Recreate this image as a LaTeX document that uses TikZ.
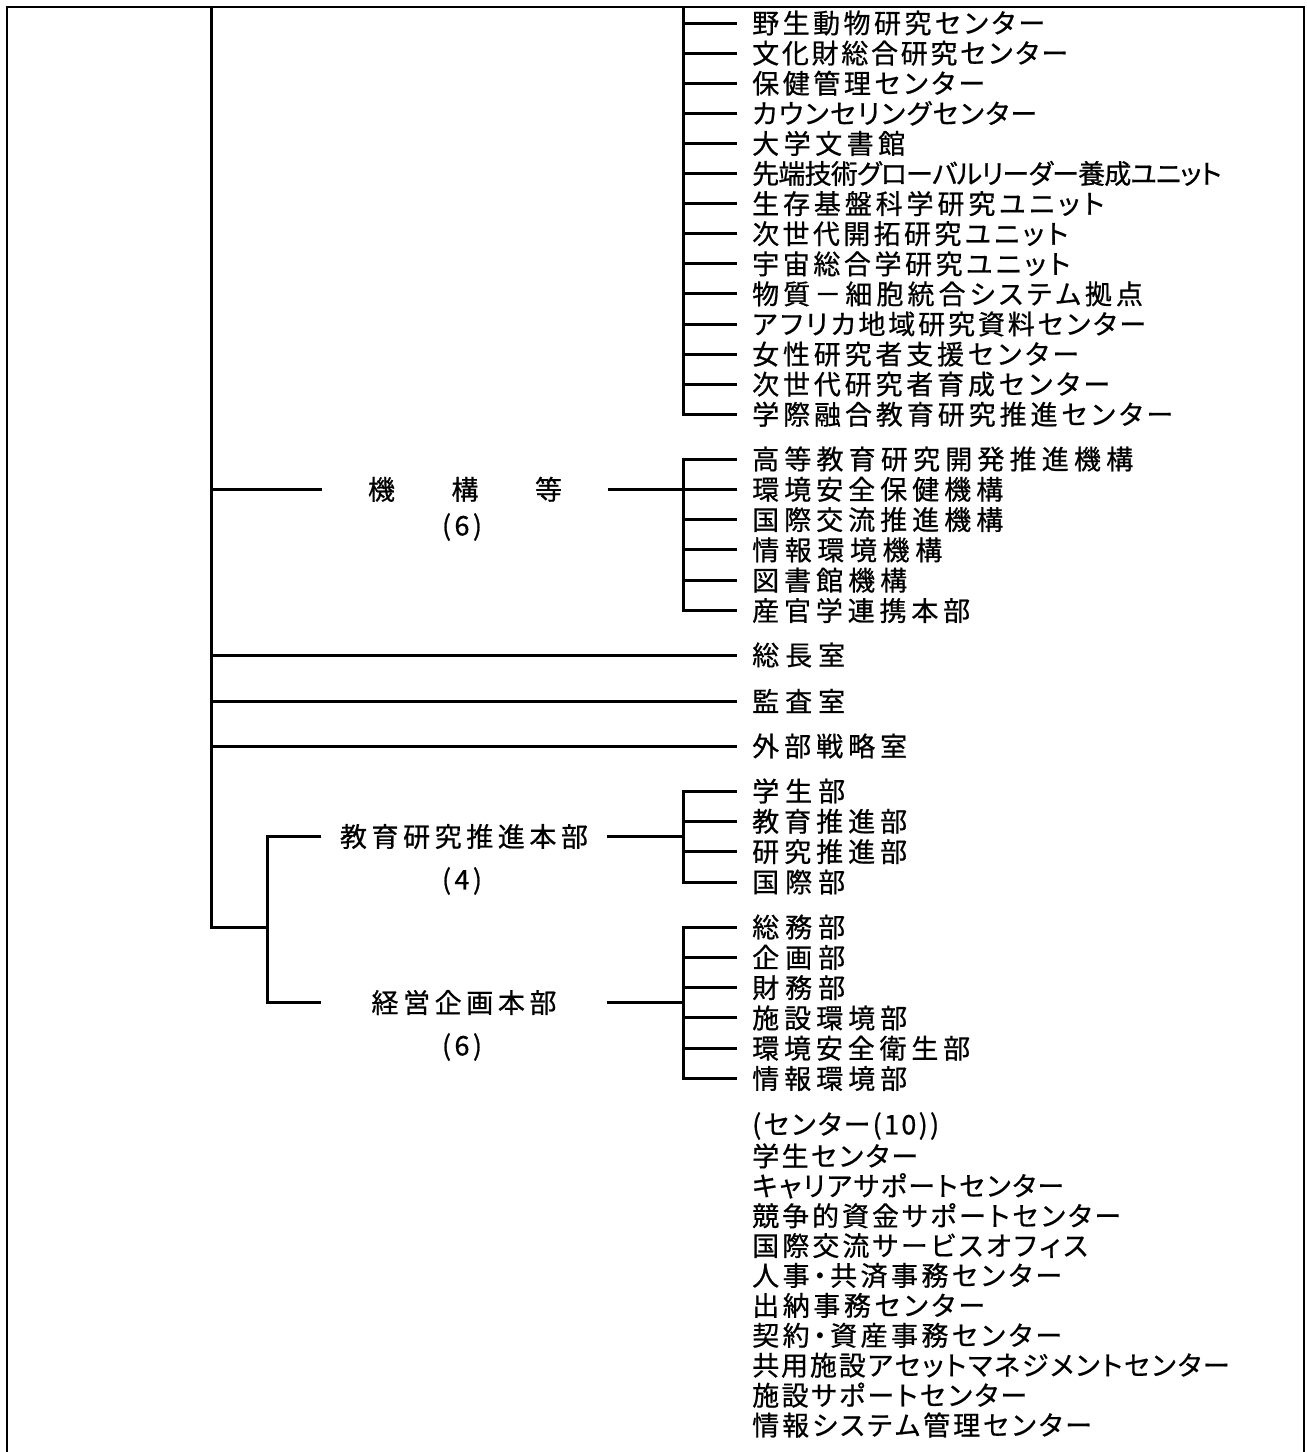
\documentclass[tikz,border=0pt]{standalone}
\usepackage{fontspec}
\newfontfamily\jp[RawFeature=+palt,FakeBold=0.7]{Noto Sans CJK JP}
\newcount\lcnt
\newdimen\lgap
\def\lend{LEND}
\def\lcount#1{\ifx#1\lend\else\advance\lcnt by 1\relax\expandafter\lcount\fi}
\def\lput#1{\ifx#1\lend\else#1\hskip\lgap\relax\expandafter\lput\fi}
% \fit{ink width in pt}{text}: spreads the characters to the given width
\newcommand\fit[2]{\setbox0\hbox{#2}\lcnt=0 \lcount#2\lend
  \lgap=#1pt \advance\lgap by -\wd0 \advance\lcnt by -1 \divide\lgap by \lcnt
  \lput#2\lend\unskip}
\begin{document}
\begin{tikzpicture}[x=1pt,y=-1pt,
  br/.style={line width=3pt},
  frm/.style={line width=2.4pt},
  lab/.style={anchor=west,inner sep=0pt,font=\jp\fontsize{27}{30}\selectfont},
  hub/.style={inner sep=0pt,minimum width=285pt,font=\jp\fontsize{27}{30}\selectfont},
  cnt/.style={inner sep=0pt,font=\jp\fontsize{27}{30}\selectfont},
  tk/.style={br,shorten >=15pt}]
\useasboundingbox (0,0) rectangle (1307,1452);
\draw[frm] (7,1460) -- (7,7) -- (1304,7) -- (1304,1460);
\coordinate (mv) at (211,7);
\coordinate (vx) at (683,7);
\coordinate (sv) at (267,0);
% ---------- top group
\node[lab] (c0) at (752,23) {\fit{293}{野生動物研究センター}};
\node[lab] (c1) at (752,53.1) {\fit{316}{文化財総合研究センター}};
\node[lab] (c2) at (752,83.2) {\fit{233}{保健管理センター}};
\node[lab] (c3) at (752,113.3) {\fit{285}{カウンセリングセンター}};
\node[lab] (c4) at (752,143.4) {\fit{153}{大学文書館}};
\node[lab] (c5) at (752,173.5) {\fit{469}{先端技術グローバルリーダー養成ユニット}};
\node[lab] (c6) at (752,203.6) {\fit{352}{生存基盤科学研究ユニット}};
\node[lab] (c7) at (752,233.7) {\fit{316}{次世代開拓研究ユニット}};
\node[lab] (c8) at (752,263.8) {\fit{318}{宇宙総合学研究ユニット}};
\node[lab] (c9) at (752,293.9) {\fit{390}{物質－細胞統合システム拠点}};
\node[lab] (c10) at (752,324) {\fit{394}{アフリカ地域研究資料センター}};
\node[lab] (c11) at (752,354.1) {\fit{327}{女性研究者支援センター}};
\node[lab] (c12) at (752,384.2) {\fit{358}{次世代研究者育成センター}};
\node[lab] (c13) at (752,414.3) {\fit{421}{学際融合教育研究推進センター}};
\draw[br] (vx) -- (vx |- c13.west) -- ([xshift=-15pt]c13.west);
\foreach \n in {c0,c1,c2,c3,c4,c5,c6,c7,c8,c9,c10,c11,c12}
  \draw[tk] (vx |- \n.west) -- (\n.west);
% ---------- 機構等
\node[lab] (o0) at (752,459) {\fit{381}{高等教育研究開発推進機構}};
\node[lab] (o1) at (752,489.3) {\fit{251}{環境安全保健機構}};
\node[lab] (o2) at (752,519.6) {\fit{251}{国際交流推進機構}};
\node[lab] (o3) at (752,549.9) {\fit{190}{情報環境機構}};
\node[lab] (o4) at (752,580.2) {\fit{155}{図書館機構}};
\node[lab] (o5) at (752,610.5) {\fit{218}{産官学連携本部}};
\draw[br] ([xshift=-15pt]o0.west) -- (vx |- o0.west) -- (vx |- o5.west) -- ([xshift=-15pt]o5.west);
\foreach \n in {o1,o2,o3,o4}
  \draw[tk] (vx |- \n.west) -- (\n.west);
\node[hub] (k) at (465,489.3) {\fit{194}{機構等}};
\node[cnt] (k6) at (462,527) {\fit{40}{(6)}};
\draw[br] (mv |- k.west) -- (k.west);
\draw[br] (k.east) -- (vx |- k.east);
% ---------- single offices
\node[lab] (s0) at (752,655) {\fit{93}{総長室}};
\node[lab] (s1) at (752,701) {\fit{93}{監査室}};
\node[lab] (s2) at (752,746) {\fit{155}{外部戦略室}};
\foreach \n in {s0,s1,s2}
  \draw[tk] (mv |- \n.west) -- (\n.west);
% ---------- 教育研究推進本部
\node[lab] (e0) at (752,791) {\fit{93}{学生部}};
\node[lab] (e1) at (752,821.3) {\fit{155}{教育推進部}};
\node[lab] (e2) at (752,851.6) {\fit{155}{研究推進部}};
\node[lab] (e3) at (752,882) {\fit{93}{国際部}};
\draw[br] ([xshift=-15pt]e0.west) -- (vx |- e0.west) -- (vx |- e3.west) -- ([xshift=-15pt]e3.west);
\foreach \n in {e1,e2}
  \draw[tk] (vx |- \n.west) -- (\n.west);
\node[hub] (h1) at (464,836.5) {\fit{248}{教育研究推進本部}};
\node[cnt] (h14) at (462,881) {\fit{40}{(4)}};
\draw[br] (h1.east) -- (vx |- h1.east);
% ---------- 経営企画本部
\node[lab] (g0) at (752,927) {\fit{93}{総務部}};
\node[lab] (g1) at (752,957.3) {\fit{93}{企画部}};
\node[lab] (g2) at (752,987.6) {\fit{93}{財務部}};
\node[lab] (g3) at (752,1017.9) {\fit{155}{施設環境部}};
\node[lab] (g4) at (752,1048.2) {\fit{218}{環境安全衛生部}};
\node[lab] (g5) at (752,1078.5) {\fit{155}{情報環境部}};
\draw[br] ([xshift=-15pt]g0.west) -- (vx |- g0.west) -- (vx |- g5.west) -- ([xshift=-15pt]g5.west);
\foreach \n in {g1,g2,g3,g4}
  \draw[tk] (vx |- \n.west) -- (\n.west);
\node[hub] (h2) at (464,1002.5) {\fit{185}{経営企画本部}};
\node[cnt] (h26) at (462,1047) {\fit{40}{(6)}};
\draw[br] (h2.east) -- (vx |- h2.east);
% ---------- left trunk
\coordinate (j) at (267,927);
\draw[br] (mv) -- (mv |- j) -- (j);
\draw[br] (h1.west) -- (sv |- h1.west) -- (sv |- h2.west) -- (h2.west);
% ---------- centres list
\node[lab] (b0) at (752,1126) {\fit{187}{(センター(10))}};
\node[lab] (b1) at (752,1155.9) {\fit{166}{学生センター}};
\node[lab] (b2) at (752,1185.8) {\fit{312}{キャリアサポートセンター}};
\node[lab] (b3) at (752,1215.7) {\fit{369}{競争的資金サポートセンター}};
\node[lab] (b4) at (752,1245.6) {\fit{335}{国際交流サービスオフィス}};
\node[lab] (b5) at (752,1275.5) {\fit{310}{人事・共済事務センター}};
\node[lab] (b6) at (752,1305.4) {\fit{233}{出納事務センター}};
\node[lab] (b7) at (752,1335.3) {\fit{310}{契約・資産事務センター}};
\node[lab] (b8) at (752,1365.2) {\fit{477}{共用施設アセットマネジメントセンター}};
\node[lab] (b9) at (752,1395.1) {\fit{275}{施設サポートセンター}};
\node[lab] (b10) at (752,1425) {\fit{339}{情報システム管理センター}};
\end{tikzpicture}
\end{document}
